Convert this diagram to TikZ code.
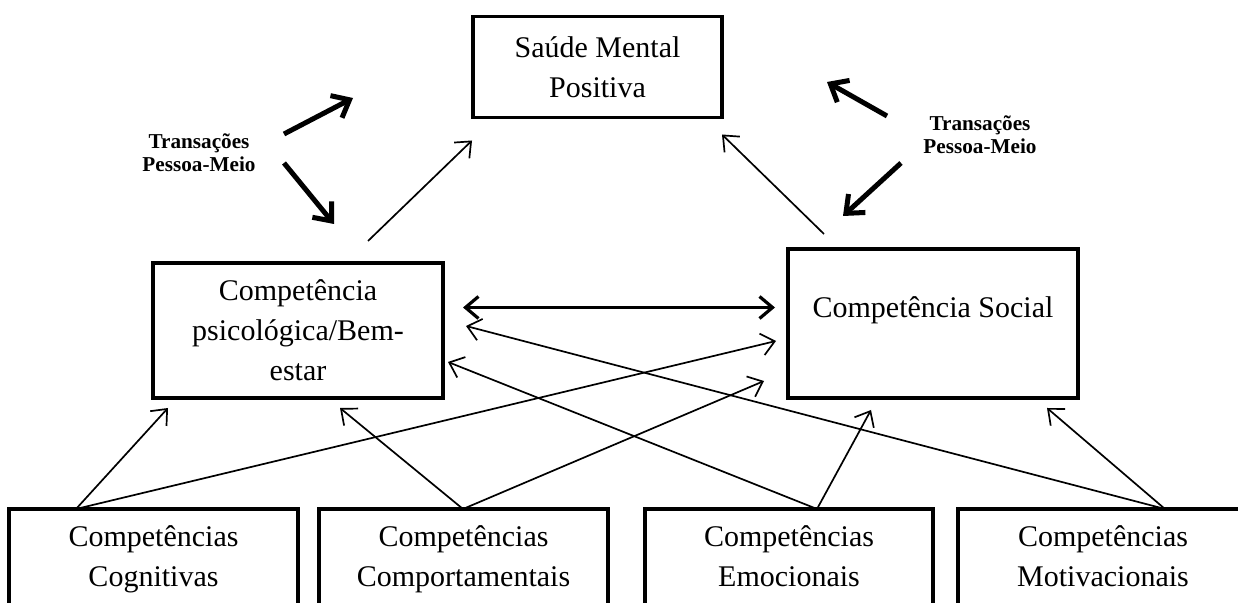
\documentclass[tikz,border=0pt]{standalone}
\usepackage{fontspec}
\setmainfont{Liberation Serif}
\usetikzlibrary{arrows.meta, calc}
\tikzset{
  boxtext/.style={font=\fontsize{15}{20}\selectfont, align=center},
  box/.style={draw, line width=1.7pt, inner sep=0, outer sep=0, boxtext},
  basebox/.style={box, minimum width=144.5pt, minimum height=49.5pt},
  tpm/.style={font=\bfseries\fontsize{10.6}{11.5}\selectfont, align=center, inner sep=0},
  conn/.style={line width=0.85pt, -{Straight Barb[length=6.5pt,width=11pt]}},
  heavy/.style={line width=2.5pt, -{Straight Barb[length=7.5pt,width=12.5pt]}},
  twoway/.style={line width=1.6pt, {Straight Barb[length=6.5pt,width=11pt]}-{Straight Barb[length=6.5pt,width=11pt]}}
}
\begin{document}
\begin{tikzpicture}[x=0.5pt,y=-0.5pt]
\useasboundingbox (0,0) rectangle (1238,603);
\clip (0,0) rectangle (1238,603);

% top and middle
\node[box, minimum width=124.5pt, minimum height=50.5pt] (smp) at (597.5,67) {Saúde Mental\\Positiva};
\node[box, minimum width=145pt, minimum height=67.5pt] (psi) at (298,330.5) {Competência\\psicológica/Bem-\\estar};
\node[box, minimum width=145pt, minimum height=74.5pt,
  label={[boxtext, yshift=6.75pt]center:Competência Social}] (soc) at (933,323.5) {};

% bottom row
\node[basebox] (cog) at (153.5,558.5) {\strut Competências\\Cognitivas\strut};
\node[basebox] (comp) at (463.5,558.5) {\strut Competências\\Comportamentais\strut};
\node[basebox, minimum width=144pt] (emo) at (789,558.5) {\strut Competências\\Emocionais\strut};
\node[basebox, minimum width=145pt] (mot) at (1103,558.5) {\strut Competências\\Motivacionais\strut};

\node[tpm] (tpl) at (199,153) {Transações\\Pessoa-Meio};
\node[tpm] (tpr) at (980,135) {Transações\\Pessoa-Meio};

\draw[heavy] ($(tpl)+(85,-19)$) -- ($(tpl)+(154,-55)$);
\draw[heavy] ($(tpl)+(85,10)$) -- ($(tpl)+(135,71)$);
\draw[heavy] ($(tpr)+(-93,-19)$) -- ($(tpr)+(-153,-53)$);
\draw[heavy] ($(tpr)+(-79,28)$) -- ($(tpr)+(-137,81)$);

\draw[conn] ($(psi.north)+(70,-22)$) -- ($(smp.south west)+(-1,23)$);
\draw[conn] ($(soc.north west)+(36,-15)$) -- ($(smp.south east)+(0,17)$);

\draw[twoway] ($(psi.east)+(20,-23)$) -- ($(soc.west)+(-13,-16)$);

\draw[conn] ($(cog.north west)+(67,0)$) -- ($(psi.south west)+(15,10)$);
\draw[conn] ($(cog.north west)+(67,0)$) -- ($(soc.west)+(-12,17.5)$);
\draw[conn] ($(comp.north west)+(144,0)$) -- ($(psi.south)+(42,10)$);
\draw[conn] ($(comp.north west)+(144,0)$) -- ($(soc.south west)+(-24,-17)$);
\draw[conn] ($(emo.north west)+(172,0)$) -- ($(psi.south east)+(5,-36)$);
\draw[conn] ($(emo.north west)+(172,0)$) -- ($(soc.south west)+(83,12)$);
\draw[conn] ($(mot.north west)+(207,0)$) -- ($(psi.north east)+(23,63)$);
\draw[conn] ($(mot.north west)+(207,0)$) -- ($(soc.south east)+(-31,10)$);
\end{tikzpicture}
\end{document}
